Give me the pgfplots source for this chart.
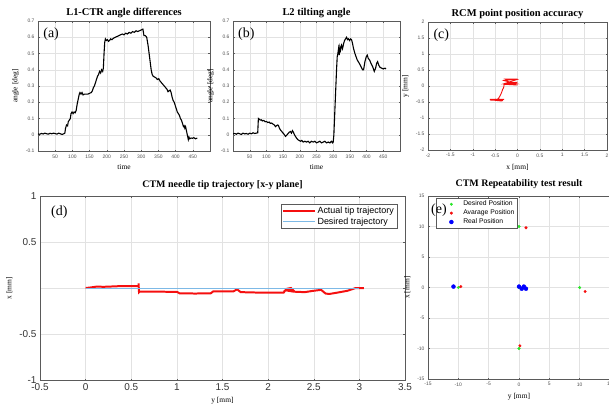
\documentclass[border=0pt]{standalone}
\usepackage{fontspec}
\setmainfont{Liberation Serif}
\setsansfont{Liberation Sans}
\usepackage{pgfplots}
\pgfplotsset{compat=1.18}
\definecolor{gridgray}{RGB}{226,226,226}
\definecolor{framegray}{RGB}{90,90,90}
\definecolor{ticktext}{RGB}{80,80,80}
\definecolor{desblue}{RGB}{125,185,230}
\definecolor{mred}{RGB}{245,15,15}
\definecolor{mgreen}{RGB}{40,230,40}

\pgfplotsset{
  panel/.style={
    scale only axis, anchor=south west,
    grid=major, grid style={gridgray, line width=0.4pt},
    axis line style={framegray, line width=0.5pt},
    tick style={framegray, line width=0.4pt},
    tick align=inside, major tick length=1.5bp,
    tick label style={font=\sffamily\fontsize{5}{5}\selectfont, text=ticktext},
    /pgf/number format/assume math mode=true,
    title style={font=\bfseries\fontsize{10.5}{11}\selectfont, yshift=-6bp},
    label style={font=\fontsize{7.5}{8}\selectfont},
  },
  dotleg/.style={legend image code/.code={%
    \pgfpathrectangle{\pgfpoint{0cm}{-0.05cm}}{\pgfpoint{0.85cm}{0.1cm}}\pgfusepath{}%
    \draw[##1] plot coordinates {(0.5cm,0cm)};}},
}
\tikzset{letter/.style={font=\fontsize{14}{14}\selectfont, inner sep=0pt, anchor=north west}}

\begin{document}
\begin{tikzpicture}
\useasboundingbox (0,0) rectangle (609bp,-415bp);

% (a)
\begin{axis}[panel, at={(38bp,-151bp)}, width=172bp, height=130bp,
  xmin=0, xmax=500, ymin=-0.1, ymax=0.7,
  xtick={50,100,...,450}, ytick={-0.1,0,0.1,0.2,0.3,0.4,0.5,0.6,0.7},
  title={L1-CTR angle differences}, xlabel={time}, ylabel={angle [deg]}]
\addplot[black, line width=1.1pt] coordinates {
(0,0.005) (5,0.003) (10,0.008) (15,0.005) (20,0.01) (25,0.006) (30,0.004) (35,0.009)
(40,0.006) (45,0.01) (50,0.007) (55,0.004) (60,0.01) (65,0.006) (70,0.002) (75,0.006)
(78,0.01) (80,0.04) (83,0.06) (86,0.055) (88,0.08) (91,0.09) (94,0.1) (96,0.13)
(99,0.14) (102,0.13) (105,0.14) (108,0.135) (111,0.15) (114,0.19) (117,0.22) (120,0.25)
(122,0.26) (125,0.25) (128,0.26) (131,0.245) (135,0.25) (140,0.25) (145,0.25) (150,0.255)
(155,0.26) (158,0.27) (161,0.29) (164,0.3) (167,0.32) (170,0.34) (173,0.36) (176,0.37)
(179,0.39) (182,0.38) (185,0.4) (188,0.39) (190,0.41) (192,0.5) (194,0.57) (196,0.59)
(199,0.58) (202,0.585) (205,0.575) (208,0.58) (211,0.59) (215,0.585) (220,0.595) (225,0.6)
(230,0.605) (235,0.61) (240,0.615) (245,0.62) (250,0.615) (255,0.625) (260,0.62) (265,0.63)
(270,0.625) (275,0.635) (280,0.63) (285,0.64) (290,0.635) (295,0.64) (300,0.645) (305,0.65)
(308,0.61) (312,0.61) (316,0.6) (320,0.55) (323,0.5) (326,0.45) (329,0.4) (332,0.37)
(335,0.36) (339,0.355) (343,0.35) (347,0.34) (351,0.345) (355,0.33) (359,0.32) (363,0.31)
(367,0.3) (371,0.29) (375,0.28) (378,0.265) (381,0.27) (384,0.275) (387,0.26) (390,0.23)
(393,0.21) (396,0.2) (399,0.18) (402,0.16) (405,0.14) (408,0.13) (411,0.12) (414,0.1)
(417,0.09) (420,0.07) (423,0.05) (425,0.055) (427,0.04) (429,0.05) (431,0.03) (433,0.01)
(435,-0.01) (437,-0.03) (439,-0.015) (441,-0.025) (445,-0.02) (449,-0.022) (453,-0.018)
(458,-0.025) (463,-0.02)
};
\node[letter] at (rel axis cs:0.03,0.95) {(a)};
\end{axis}

% (b)
\begin{axis}[panel, at={(233bp,-151bp)}, width=167bp, height=130bp,
  xmin=0, xmax=500, ymin=-0.1, ymax=0.7,
  xtick={50,100,...,450}, ytick={-0.1,0,0.1,0.2,0.3,0.4,0.5,0.6,0.7},
  title={L2 tilting angle}, xlabel={time}, ylabel={angle [deg]}]
\addplot[black, line width=1.1pt] coordinates {
(0,0.005) (5,0.008) (10,0.003) (15,0.01) (20,0.006) (25,0.002) (30,0.01) (35,0.005)
(40,0.008) (45,0.003) (50,0.01) (55,0.006) (60,0.012) (65,0.008) (70,0.01) (74,0.012)
(76,0.1) (79,0.095) (82,0.09) (85,0.092) (88,0.085) (92,0.088) (96,0.08) (100,0.082)
(104,0.075) (108,0.078) (112,0.07) (116,0.072) (120,0.065) (124,0.06) (127,0.05) (130,0.055)
(133,0.06) (136,0.058) (139,0.04) (142,0.03) (146,0.02) (150,0.01) (154,0.0) (157,-0.01)
(160,-0.005) (164,0.005) (168,0.015) (172,0.02) (175,0.01) (178,0.025) (181,0.015) (184,0.0)
(187,-0.01) (190,-0.02) (194,-0.03) (198,-0.035) (202,-0.04) (206,-0.035) (210,-0.045) (215,-0.04)
(220,-0.045) (225,-0.04) (230,-0.05) (235,-0.04) (240,-0.045) (245,-0.04) (250,-0.05) (255,-0.045)
(260,-0.04) (265,-0.05) (270,-0.045) (275,-0.04) (280,-0.05) (285,-0.045) (290,-0.05) (295,-0.04)
(298,-0.05) (300,-0.045) (302,0.0) (304,0.1) (306,0.2) (308,0.3) (310,0.4) (312,0.48)
(314,0.5) (316,0.53) (318,0.49) (320,0.54) (322,0.52) (325,0.55) (328,0.53) (331,0.56)
(334,0.58) (337,0.59) (340,0.6) (343,0.585) (346,0.59) (349,0.58) (352,0.59) (355,0.585)
(358,0.56) (361,0.53) (365,0.5) (372,0.46) (378,0.44) (383,0.42) (388,0.4) (391,0.4)
(395,0.45) (399,0.48) (402,0.49) (405,0.47) (409,0.46) (413,0.44) (418,0.42) (423,0.39)
(427,0.41) (430,0.44) (433,0.45) (436,0.43) (440,0.415) (445,0.41) (450,0.405) (455,0.41)
(458,0.405)
};
\node[letter] at (rel axis cs:0.03,0.95) {(b)};
\end{axis}

% (c)
\begin{axis}[panel, at={(428bp,-150bp)}, width=179bp, height=128bp,
  xmin=-2, xmax=2, ymin=-2, ymax=2,
  xtick={-2,-1.5,...,2}, ytick={-2,-1.5,...,2},
  title={RCM point position accuracy}, xlabel={x [mm]}, ylabel={y [mm]}]
\addplot[mred, line width=0.9pt] coordinates {
(-0.62,-0.42) (-0.3,-0.42) (-0.6,-0.44) (-0.32,-0.46) (-0.62,-0.43) (-0.35,-0.47)
(-0.5,-0.41) (-0.45,-0.42) (-0.42,-0.38) (-0.4,-0.33) (-0.37,-0.25) (-0.35,-0.18)
(-0.33,-0.1) (-0.31,-0.05) (-0.3,0.03) (-0.3,0.06) (-0.02,0.07) (-0.3,0.17) (0.0,0.22)
(-0.31,0.22) (-0.02,0.2) (-0.28,0.08) (0.0,0.12) (-0.25,0.05) (0.0,0.03)
};
\node[letter] at (rel axis cs:0.03,0.95) {(c)};
\end{axis}

% (d)
\begin{axis}[panel, at={(40bp,-380bp)}, width=365bp, height=184bp,
  xmin=-0.5, xmax=3.5, ymin=-1, ymax=1,
  xtick={-0.5,0,...,3.5}, ytick={-1,-0.5,0,0.5,1}, yticklabels={-1,-0.5,,0.5,1},
  tick label style={font=\sffamily\fontsize{10}{10}\selectfont, text=black!80},
  title={CTM needle tip trajectory [x-y plane]},
  title style={font=\bfseries\fontsize{10}{11}\selectfont, yshift=3bp},
  xlabel={y [mm]}, ylabel={x [mm]},
  legend style={at={(0.978,0.957)}, anchor=north east, draw=framegray,
    font=\sffamily\fontsize{9}{10}\selectfont, inner sep=1pt, row sep=-1.5pt},
  legend image code/.code={\draw[#1] (0cm,0cm) -- (1.1cm,0cm);},
  legend cell align=left]
\addplot[mred, line width=2pt] coordinates {
(0,0) (0.05,0.005) (0.12,0.015) (0.2,0.013) (0.3,0.017) (0.37,0.02) (0.45,0.021)
(0.56,0.02) (0.58,0.02) (0.58,0.05) (0.585,-0.045) (0.59,-0.04) (0.8,-0.04) (1.0,-0.042)
(1.03,-0.058) (1.2,-0.06) (1.37,-0.058) (1.4,-0.036) (1.5,-0.038) (1.62,-0.036) (1.66,-0.015)
(1.7,-0.045) (1.9,-0.05) (2.17,-0.05) (2.2,-0.01) (2.25,0.0) (2.27,-0.02) (2.22,-0.03)
(2.28,-0.04) (2.4,-0.045) (2.5,-0.03) (2.58,-0.02) (2.63,-0.06) (2.67,-0.065) (2.76,-0.05)
(2.87,-0.03) (2.96,0.0) (3.05,0.0)
};
\addlegendentry{Actual tip trajectory}
\addplot[desblue, line width=0.8pt] coordinates {(0,0) (3,0)};
\addlegendentry{Desired trajectory}
\node[letter] at (rel axis cs:0.03,0.95) {(d)};
\end{axis}

% (e)
\begin{axis}[panel, at={(428bp,-379bp)}, width=182bp, height=183bp,
  xmin=-15, xmax=15, ymin=-15, ymax=15,
  xtick={-15,-10,...,15}, ytick={-15,-10,...,15},
  title={CTM Repeatability test result},
  title style={font=\bfseries\fontsize{10}{11}\selectfont, yshift=4bp},
  xlabel={y [mm]}, ylabel={x [mm]},
  legend style={at={(0.044,0.99)}, anchor=north west, draw=framegray,
    font=\sffamily\fontsize{6.8}{7}\selectfont, inner sep=1pt, row sep=-1.5pt},
  legend cell align=left]
\addplot[only marks, mark=*, mark size=1.3pt, color=mgreen, dotleg] coordinates {
(0,10) (-10,0) (0,0) (10,0) (0,-10)};
\addlegendentry{Desired Position}
\addplot[only marks, mark=*, mark size=1.3pt, color=mred, dotleg] coordinates {
(1.15,9.8) (-9.6,0.15) (0.6,0) (10.9,-0.65) (0.15,-9.55)};
\addlegendentry{Avarage Position}
\addplot[only marks, mark=*, mark size=2pt, color=blue, dotleg] coordinates {
(-10.8,0.15) (0,0.15) (0.45,-0.2) (0.8,0.15) (1.15,-0.2)};
\addlegendentry{Real Position}
\end{axis}
\node[letter] at (431bp,-204bp) {(e)};
\end{tikzpicture}
\end{document}
